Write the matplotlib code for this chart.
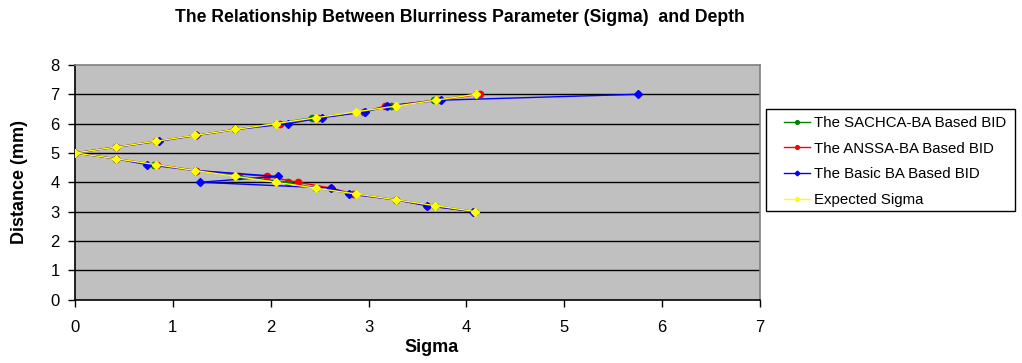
import matplotlib
matplotlib.use("Agg")
import matplotlib.pyplot as plt
from matplotlib.patches import Rectangle

plt.rcParams['font.family'] = ['Liberation Sans', 'DejaVu Sans']

# distance (mm) for every sample, same for all series
distance = [3.0, 3.2, 3.4, 3.6, 3.8, 4.0, 4.2, 4.4, 4.6, 4.8, 5.0,
            5.2, 5.4, 5.6, 5.8, 6.0, 6.2, 6.4, 6.6, 6.8, 7.0]

sachca_sigma = [4.09, 3.68, 3.28, 2.86, 2.46, 2.18, 1.68, 1.24, 0.81, 0.42, 0.0,
                0.42, 0.83, 1.24, 1.64, 2.05, 2.42, 2.95, 3.23, 3.67, 4.10]
anssa_sigma = [4.08, 3.60, 3.28, 2.84, 2.62, 2.28, 1.96, 1.24, 0.84, 0.42, 0.0,
               0.42, 0.83, 1.24, 1.64, 2.09, 2.48, 2.95, 3.17, 3.70, 4.14]
basic_sigma = [4.07, 3.60, 3.28, 2.80, 2.62, 1.28, 2.07, 1.23, 0.74, 0.42, 0.0,
               0.42, 0.86, 1.24, 1.64, 2.18, 2.52, 2.96, 3.19, 3.74, 5.75]
expected_sigma = [4.09, 3.68, 3.28, 2.87, 2.46, 2.05, 1.64, 1.23, 0.83, 0.42, 0.0,
                  0.42, 0.83, 1.23, 1.64, 2.05, 2.46, 2.87, 3.28, 3.69, 4.10]

series_names = ["The SACHCA-BA Based BID", "The ANSSA-BA Based BID",
                "The Basic BA Based BID", "Expected Sigma"]

W, H = 1022, 363
fig = plt.figure(figsize=(W / 100, H / 100), dpi=100)
ax = fig.add_axes([75 / W, 1 - 299.5 / H, 685 / W, 234.5 / H])
ax.set_facecolor("#C0C0C0")

ax.plot(sachca_sigma, distance, color="#008000", marker="o", markersize=4.5, lw=1.0,
        label=series_names[0], zorder=3)
ax.plot(anssa_sigma, distance, color="#FF0000", marker="o", markersize=4.5, lw=1.0,
        label=series_names[1], zorder=4)
ax.plot(basic_sigma, distance, color="#0000FF", marker="D", markersize=4, lw=1.0,
        label=series_names[2], zorder=5)
ax.plot(expected_sigma, distance, color="#FFFF00", marker="D", markersize=4, lw=1.0,
        label=series_names[3], zorder=6)

ax.set_xlim(0, 7)
ax.set_ylim(0, 8)
ax.set_xticks(range(0, 8))
ax.set_yticks(range(0, 9))
for y in range(1, 8):
    ax.axhline(y, color="black", lw=1.0, zorder=1)

ax.spines['left'].set_color("black")
ax.spines['bottom'].set_color("black")
ax.spines['top'].set_color("#808080")
ax.spines['right'].set_color("#808080")
for s in ax.spines.values():
    s.set_linewidth(1.2)
ax.tick_params(axis='both', direction='out', length=5, width=1, labelsize=12, colors="black")
ax.tick_params(axis='x', pad=10)
ax.tick_params(axis='y', pad=6)

ax.set_xlabel("Sigma", fontsize=13, fontweight="bold")
ax.xaxis.set_label_coords(0.52, -0.17)
ax.set_ylabel("Distance (mm)", fontsize=13, fontweight="bold")
ax.yaxis.set_label_coords(-0.069, 0.5)

fig.text(460 / W, 1 - 18 / H, "The Relationship Between Blurriness Parameter (Sigma)  and Depth",
         ha="center", va="center", fontsize=12.7, fontweight="bold")

# legend box drawn by hand, entries placed inside it
fig.patches.append(Rectangle((766 / W, 1 - 211 / H), 249 / W, 102 / H,
                             transform=fig.transFigure, facecolor="white",
                             edgecolor="black", lw=1.0))
leg = fig.legend(loc="upper left", bbox_to_anchor=(784 / W, 1 - 116 / H),
                 frameon=False, fontsize=10.8, markerscale=0.6,
                 handlelength=1.7, handletextpad=0.33, labelspacing=0.78,
                 borderpad=0, borderaxespad=0)

fig.savefig("out.png", dpi=100)
